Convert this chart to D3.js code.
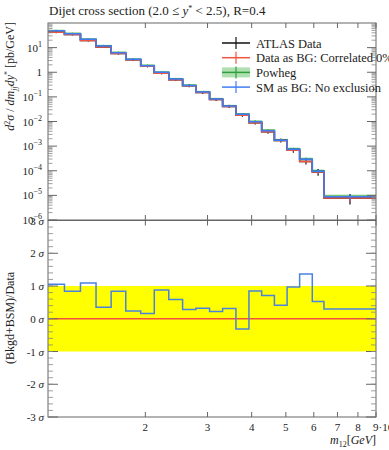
<!DOCTYPE html>
<html>
<head>
<meta charset="utf-8">
<script src="https://cdn.jsdelivr.net/npm/d3@7"></script>
<style>
  body { margin: 0; background: #fff; }
  svg { display: block; }
  text { font-family: "Liberation Serif", "DejaVu Serif", serif; fill: #222; }
</style>
</head>
<body>
<svg width="389" height="450"></svg>
<script>
// bin edges in m12 [GeV]
const massEdges = [1060, 1180, 1310, 1450, 1600, 1760, 1940, 2120, 2330, 2550, 2780,
                   3040, 3310, 3610, 3930, 4270, 4640, 5040, 5470, 5940, 6410, 9000];

// d2sigma/dm dy* [pb/GeV]
const atlasData = [42, 34, 19.5, 10.6, 5.8, 3.2, 1.75, 0.92, 0.5, 0.28, 0.15, 0.078,
                   0.041, 0.018, 0.0089, 0.0038, 0.0017, 0.00068, 0.00024, 0.00009, 0.0000078];
const atlasErr = [0.08, 0.08, 0.09, 0.09, 0.1, 0.1, 0.1, 0.11, 0.11, 0.12, 0.12, 0.13,
                  0.13, 0.14, 0.15, 0.16, 0.18, 0.2, 0.25, 0.3, 0.45];
const dataAsBG = [42, 34, 19.5, 10.6, 5.8, 3.2, 1.75, 0.92, 0.5, 0.28, 0.15, 0.078,
                  0.041, 0.018, 0.0089, 0.0038, 0.0017, 0.00068, 0.00024, 0.00009, 0.0000078];
const powheg = [49, 37.5, 22, 12, 6.4, 3.4, 1.9, 1.0, 0.54, 0.3, 0.16, 0.083,
                0.044, 0.02, 0.0101, 0.0044, 0.0018, 0.00078, 0.0003, 0.0001, 0.0000092];
const powhegErr = [0.1, 0.1, 0.1, 0.1, 0.1, 0.1, 0.1, 0.1, 0.1, 0.1, 0.1, 0.1,
                   0.1, 0.1, 0.1, 0.1, 0.12, 0.12, 0.15, 0.15, 0.18];
const smAsBG = [48.6, 36.7, 21.7, 11.6, 6.2, 3.34, 1.84, 0.99, 0.53, 0.29, 0.157, 0.0815,
                0.0423, 0.0195, 0.0098, 0.0042, 0.00175, 0.00075, 0.000295, 0.000096, 0.0000087];

// (Bkgd+BSM)/Data in sigma
const sigmaDataBG = [0, 0, 0, 0, 0, 0, 0, 0, 0, 0, 0, 0, 0, 0, 0, 0, 0, 0, 0, 0, 0];
const sigmaSM = [1.05, 0.84, 1.09, 0.35, 0.84, 0.24, 0.16, 0.88, 0.59, 0.28, 0.32, 0.22,
                 0.31, -0.31, 0.85, 0.71, 0.41, 0.97, 1.37, 0.53, 0.30];

const upperTicks = [1, 0, -1, -2, -3, -4, -5, -6];   // exponents
const sigmaTicks = [3, 2, 1, 0, -1, -2, -3];
const xTicks = [2000, 3000, 4000, 5000, 6000, 7000, 8000, 9000];
const xTickLabels = ["2", "3", "4", "5", "6", "7", "8", "9·10³"];

const legendItems = [
    { label: "ATLAS Data", color: "#111111", band: null },
    { label: "Data as BG: Correlated 0%", color: "#f0533f", band: null },
    { label: "Powheg", color: "#2e9e3e", band: "#9bd89b" },
    { label: "SM as BG: No exclusion", color: "#3f7cf5", band: null }
];

const svg = d3.select("svg");
const left = 48, right = 376;
const top1 = 23, bot1 = 220, top2 = 220.5, bot2 = 417;
const frameColor = "#666";

const x = d3.scaleLog().domain([1060, 9000]).range([left, right]);
const y1 = d3.scaleLog().domain([1e-6, 1e2]).range([bot1, top1]);
const y2 = d3.scaleLinear().domain([-3, 3]).range([bot2, top2]);

function stepPoints(vals) {
    let pts = vals.map((v, i) => [massEdges[i], v]);
    pts.push([massEdges[massEdges.length - 1], vals[vals.length - 1]]);
    return pts;
}
function centre(i) { return Math.sqrt(massEdges[i] * massEdges[i + 1]); }

//////////// UPPER PANEL ////////////

const g1 = svg.append("g");
g1.append("defs").append("clipPath").attr("id", "clip1")
    .append("rect").attr("x", left).attr("y", top1).attr("width", right - left).attr("height", bot1 - top1);
const plot1 = g1.append("g").attr("clip-path", "url(#clip1)");

const line1 = d3.line().x(d => x(d[0])).y(d => y1(d[1])).curve(d3.curveStepAfter);

// powheg band
const bandArea = d3.area()
    .x(d => x(d[0]))
    .y0(d => y1(d[1] * (1 - d[2])))
    .y1(d => y1(d[1] * (1 + d[2])))
    .curve(d3.curveStepAfter);
let bandPts = powheg.map((v, i) => [massEdges[i], v, powhegErr[i]]);
bandPts.push([massEdges[massEdges.length - 1], powheg[powheg.length - 1], powhegErr[powhegErr.length - 1]]);
plot1.append("path").attr("d", bandArea(bandPts)).attr("fill", "#9bd89b").attr("opacity", 0.7);

function drawSeries(vals, errs, color, width) {
    plot1.append("path")
        .attr("d", line1(stepPoints(vals)))
        .attr("fill", "none").attr("stroke", color).attr("stroke-width", width);
    plot1.selectAll(null).data(vals).enter().append("line")
        .attr("x1", (d, i) => x(centre(i))).attr("x2", (d, i) => x(centre(i)))
        .attr("y1", (d, i) => y1(d * (1 + errs[i])))
        .attr("y2", (d, i) => y1(Math.max(d * (1 - errs[i]), 1e-7)))
        .attr("stroke", color).attr("stroke-width", 1.2);
}
drawSeries(powheg, powhegErr.map(e => e * 0.8), "#2e9e3e", 1.5);
drawSeries(atlasData, atlasErr, "#111111", 1.5);
drawSeries(dataAsBG, atlasErr.map(e => e * 0.6), "#f0533f", 1.5);
drawSeries(smAsBG, atlasErr.map(e => e * 0.6), "#3f7cf5", 1.5);

// frame
g1.append("rect").attr("x", left).attr("y", top1).attr("width", right - left).attr("height", bot1 - top1)
    .attr("fill", "none").attr("stroke", frameColor).attr("stroke-width", 1);

// y ticks (log)
upperTicks.forEach(e => {
    const yy = y1(Math.pow(10, e));
    [[left, 9], [right, -9]].forEach(s => {
        g1.append("line").attr("x1", s[0]).attr("x2", s[0] + s[1]).attr("y1", yy).attr("y2", yy)
            .attr("stroke", frameColor);
    });
    const t = g1.append("text").attr("x", 42).attr("y", yy + 4).attr("text-anchor", "end")
        .style("font-size", "11px");
    if (e === 0) t.text("1");
    else {
        t.append("tspan").text("10");
        t.append("tspan").attr("dy", -5).style("font-size", "8px").text(e < 0 ? "−" + (-e) : e);
    }
});
for (let e = -6; e <= 1; e++) {
    for (let k = 2; k <= 9; k++) {
        const yy = y1(k * Math.pow(10, e));
        [[left, 4.5], [right, -4.5]].forEach(s => {
            g1.append("line").attr("x1", s[0]).attr("x2", s[0] + s[1]).attr("y1", yy).attr("y2", yy)
                .attr("stroke", "#888").attr("stroke-width", 0.8);
        });
    }
}
// x ticks on upper panel
xTicks.forEach(v => {
    [[top1, 5], [bot1, -5]].forEach(s => {
        g1.append("line").attr("x1", x(v)).attr("x2", x(v)).attr("y1", s[0]).attr("y2", s[0] + s[1])
            .attr("stroke", frameColor);
    });
});

// title
const title = svg.append("text").attr("x", 49).attr("y", 15).style("font-size", "13px");
title.append("tspan").text("Dijet cross section (2.0 ≤ ");
title.append("tspan").style("font-style", "italic").text("y");
title.append("tspan").attr("dy", -4).style("font-size", "8px").text("*");
title.append("tspan").attr("dy", 4).text(" < 2.5), R=0.4");

// y label upper
const yl = svg.append("text").attr("transform", "translate(14,22) rotate(-90)")
    .attr("text-anchor", "end").style("font-size", "12px");
yl.append("tspan").style("font-style", "italic").text("d");
yl.append("tspan").attr("dy", -4).style("font-size", "8px").text("2");
yl.append("tspan").attr("dy", 4).style("font-style", "italic").text("σ");
yl.append("tspan").text(" / ");
yl.append("tspan").style("font-style", "italic").text("dm");
yl.append("tspan").attr("dy", 3).style("font-size", "8px").style("font-style", "italic").text("jj");
yl.append("tspan").attr("dy", -3).style("font-style", "italic").text("dy");
yl.append("tspan").attr("dy", -4).style("font-size", "8px").text("*");
yl.append("tspan").attr("dy", 4).text(" [pb/GeV]");

// legend
legendItems.forEach((d, i) => {
    const yy = 43 + i * 14.7;
    const lg = svg.append("g");
    if (d.band) {
        lg.append("rect").attr("x", 222).attr("y", yy - 5).attr("width", 28).attr("height", 10)
            .attr("fill", d.band).attr("opacity", 0.8);
    }
    lg.append("line").attr("x1", 222).attr("x2", 250).attr("y1", yy).attr("y2", yy)
        .attr("stroke", d.color).attr("stroke-width", 1.5);
    lg.append("line").attr("x1", 236).attr("x2", 236).attr("y1", yy - 6).attr("y2", yy + 6)
        .attr("stroke", d.color).attr("stroke-width", 1.2);
    lg.append("text").attr("x", 256).attr("y", yy + 4.5).style("font-size", "12.5px").text(d.label);
});

//////////// LOWER PANEL ////////////

const g2 = svg.append("g");
g2.append("rect").attr("x", left).attr("y", y2(1)).attr("width", right - left)
    .attr("height", y2(-1) - y2(1)).attr("fill", "#ffff00");

const line2 = d3.line().x(d => x(d[0])).y(d => y2(d[1])).curve(d3.curveStepAfter);
g2.append("path").attr("d", line2(stepPoints(sigmaDataBG)))
    .attr("fill", "none").attr("stroke", "#f0533f").attr("stroke-width", 1.5);
g2.append("path").attr("d", line2(stepPoints(sigmaSM)))
    .attr("fill", "none").attr("stroke", "#4a82e0").attr("stroke-width", 1.5);

g2.append("rect").attr("x", left).attr("y", top2).attr("width", right - left).attr("height", bot2 - top2)
    .attr("fill", "none").attr("stroke", frameColor).attr("stroke-width", 1);

sigmaTicks.forEach(v => {
    const yy = y2(v);
    [[left, 10], [right, -10]].forEach(s => {
        g2.append("line").attr("x1", s[0]).attr("x2", s[0] + s[1]).attr("y1", yy).attr("y2", yy)
            .attr("stroke", frameColor);
    });
    const t = g2.append("text").attr("x", 44).attr("y", yy + 4).attr("text-anchor", "end")
        .style("font-size", "11px");
    t.text((v < 0 ? "-" : "") + Math.abs(v) + " ");
    t.append("tspan").style("font-style", "italic").text("σ");
});
for (let v = -3; v < 3; v += 0.2) {
    const yy = y2(v);
    [[left, 5], [right, -5]].forEach(s => {
        g2.append("line").attr("x1", s[0]).attr("x2", s[0] + s[1]).attr("y1", yy).attr("y2", yy)
            .attr("stroke", "#888").attr("stroke-width", 0.8);
    });
}
xTicks.forEach((v, i) => {
    [[top2, 5], [bot2, -5]].forEach(s => {
        g2.append("line").attr("x1", x(v)).attr("x2", x(v)).attr("y1", s[0]).attr("y2", s[0] + s[1])
            .attr("stroke", frameColor);
    });
    const last = i === xTicks.length - 1;
    g2.append("text").attr("x", last ? x(v) - 3 : x(v)).attr("y", 431)
        .attr("text-anchor", last ? "start" : "middle")
        .style("font-size", "11px").text(xTickLabels[i]);
});

// lower y label
svg.append("text").attr("transform", "translate(14,318) rotate(-90)")
    .attr("text-anchor", "middle").style("font-size", "12px").text("(Bkgd+BSM)/Data");

// x label
const xl = svg.append("text").attr("x", 376).attr("y", 444).attr("text-anchor", "end")
    .style("font-size", "12px");
xl.append("tspan").style("font-style", "italic").text("m");
xl.append("tspan").attr("dy", 3).style("font-size", "8px").text("12");
xl.append("tspan").attr("dy", -3).text("[");
xl.append("tspan").style("font-style", "italic").text("GeV");
xl.append("tspan").text("]");
</script>
</body>
</html>
